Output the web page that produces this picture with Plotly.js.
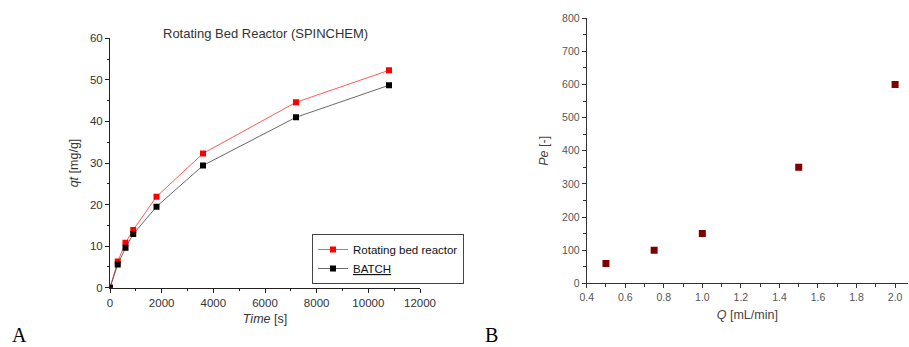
<!DOCTYPE html>
<html><head><meta charset="utf-8">
<script src="https://cdn.plot.ly/plotly-3.0.1.min.js"></script>
<style>html,body{margin:0;padding:0;background:#fff}#chart{width:909px;height:347px}</style>
</head><body><div id="chart"></div>
<script>
// Panel A data
const timeS = [0, 300, 600, 900, 1800, 3600, 7200, 10800];
const qtRotating = [0, 6.3, 10.8, 13.9, 21.9, 32.3, 44.6, 52.3];
const qtBatch = [0, 5.6, 9.6, 12.9, 19.5, 29.4, 41.0, 48.7];
const seriesNames = ['Rotating bed reactor', '<u>BATCH</u>'];
// Panel B data
const flowQ = [0.5, 0.75, 1.0, 1.5, 2.0];
const peclet = [60, 100, 150, 350, 600];

const W = 909, H = 347;
const px = v => v / W;
const py = v => (H - v) / H;

const tickFont = {family: 'Liberation Sans, Arial, sans-serif', size: 11.5, color: '#333'};
const tickFontB = {family: 'Liberation Sans, Arial, sans-serif', size: 10.5, color: '#555'};

const traces = [
  {x: timeS, y: qtRotating, name: seriesNames[0], type: 'scatter', mode: 'lines+markers',
   line: {color: '#ff3030', width: 0.8}, marker: {symbol: 'square', size: 6, color: '#ff0000'},
   xaxis: 'x', yaxis: 'y'},
  {x: timeS, y: qtBatch, name: seriesNames[1], type: 'scatter', mode: 'lines+markers',
   line: {color: '#444', width: 0.8}, marker: {symbol: 'square', size: 6, color: '#000'},
   xaxis: 'x', yaxis: 'y'},
  {x: flowQ, y: peclet, name: 'Pe', type: 'scatter', mode: 'markers', showlegend: false,
   marker: {symbol: 'square', size: 7, color: '#800000'}, xaxis: 'x2', yaxis: 'y2'}
];

const axCommon = {showline: true, linecolor: '#222', linewidth: 1, ticks: 'outside', ticklen: 4,
  tickcolor: '#222', showgrid: false, zeroline: false, mirror: false};

const layout = {
  width: W, height: H, margin: {l: 0, r: 0, t: 0, b: 0},
  paper_bgcolor: '#fff', plot_bgcolor: '#fff', showlegend: true,
  font: {family: 'Liberation Sans, Arial, sans-serif', color: '#333'},
  xaxis: Object.assign({}, axCommon, {domain: [px(110), px(420)], range: [0, 12000], dtick: 2000,
    tickformat: 'd', tickfont: tickFont, anchor: 'y',
    minor: {dtick: 1000, ticks: 'outside', ticklen: 2.5, tickcolor: '#222'},
    title: {text: '<i>Time</i> [s]', font: {size: 12.5, color: '#333'}, standoff: 6}}),
  yaxis: Object.assign({}, axCommon, {domain: [py(287.7), py(38.3)], range: [0, 60], dtick: 10,
    tickfont: tickFont, anchor: 'x',
    minor: {dtick: 5, ticks: 'outside', ticklen: 2.5, tickcolor: '#222'},
    title: {text: '<i>qt</i> [mg/g]', font: {size: 12.5, color: '#333'}, standoff: 8}}),
  xaxis2: Object.assign({}, axCommon, {domain: [px(586.7), px(908)], range: [0.4, 2.067], dtick: 0.2, tick0: 0.4,
    tickformat: '.1f', tickfont: tickFontB, anchor: 'y2', linecolor: '#333', tickcolor: '#333',
    minor: {dtick: 0.1, ticks: 'outside', ticklen: 2.5, tickcolor: '#333'},
    title: {text: '<i>Q</i> [mL/min]', font: {size: 12.5, color: '#444'}, standoff: 8}}),
  yaxis2: Object.assign({}, axCommon, {domain: [py(283.3), py(18.3)], range: [0, 800], dtick: 100,
    tickfont: tickFontB, anchor: 'x2', linecolor: '#333', tickcolor: '#333',
    minor: {dtick: 50, ticks: 'outside', ticklen: 2.5, tickcolor: '#333'},
    title: {text: '<i>Pe</i> [-]', font: {size: 12.5, color: '#444'}, standoff: 10}}),
  legend: {x: px(312), y: py(284), xanchor: 'left', yanchor: 'bottom', bgcolor: '#fff',
    bordercolor: '#444', borderwidth: 1, font: {size: 11.5, color: '#111'},
    tracegroupgap: 0, itemwidth: 30},
  annotations: [
    {text: 'Rotating Bed Reactor (SPINCHEM)', xref: 'paper', yref: 'paper', x: px(265), y: py(33),
     xanchor: 'center', yanchor: 'middle', showarrow: false, font: {size: 13, color: '#333'}},
    {text: 'A', xref: 'paper', yref: 'paper', x: px(11), y: 0, xanchor: 'left', yanchor: 'bottom',
     borderpad: 0, showarrow: false, font: {family: 'Liberation Serif, Times New Roman, serif', size: 20, color: '#000'}},
    {text: 'B', xref: 'paper', yref: 'paper', x: px(484), y: 0, xanchor: 'left', yanchor: 'bottom',
     borderpad: 0, showarrow: false, font: {family: 'Liberation Serif, Times New Roman, serif', size: 20, color: '#000'}}
  ]
};

Plotly.newPlot('chart', traces, layout, {displayModeBar: false, staticPlot: true});
</script></body></html>
